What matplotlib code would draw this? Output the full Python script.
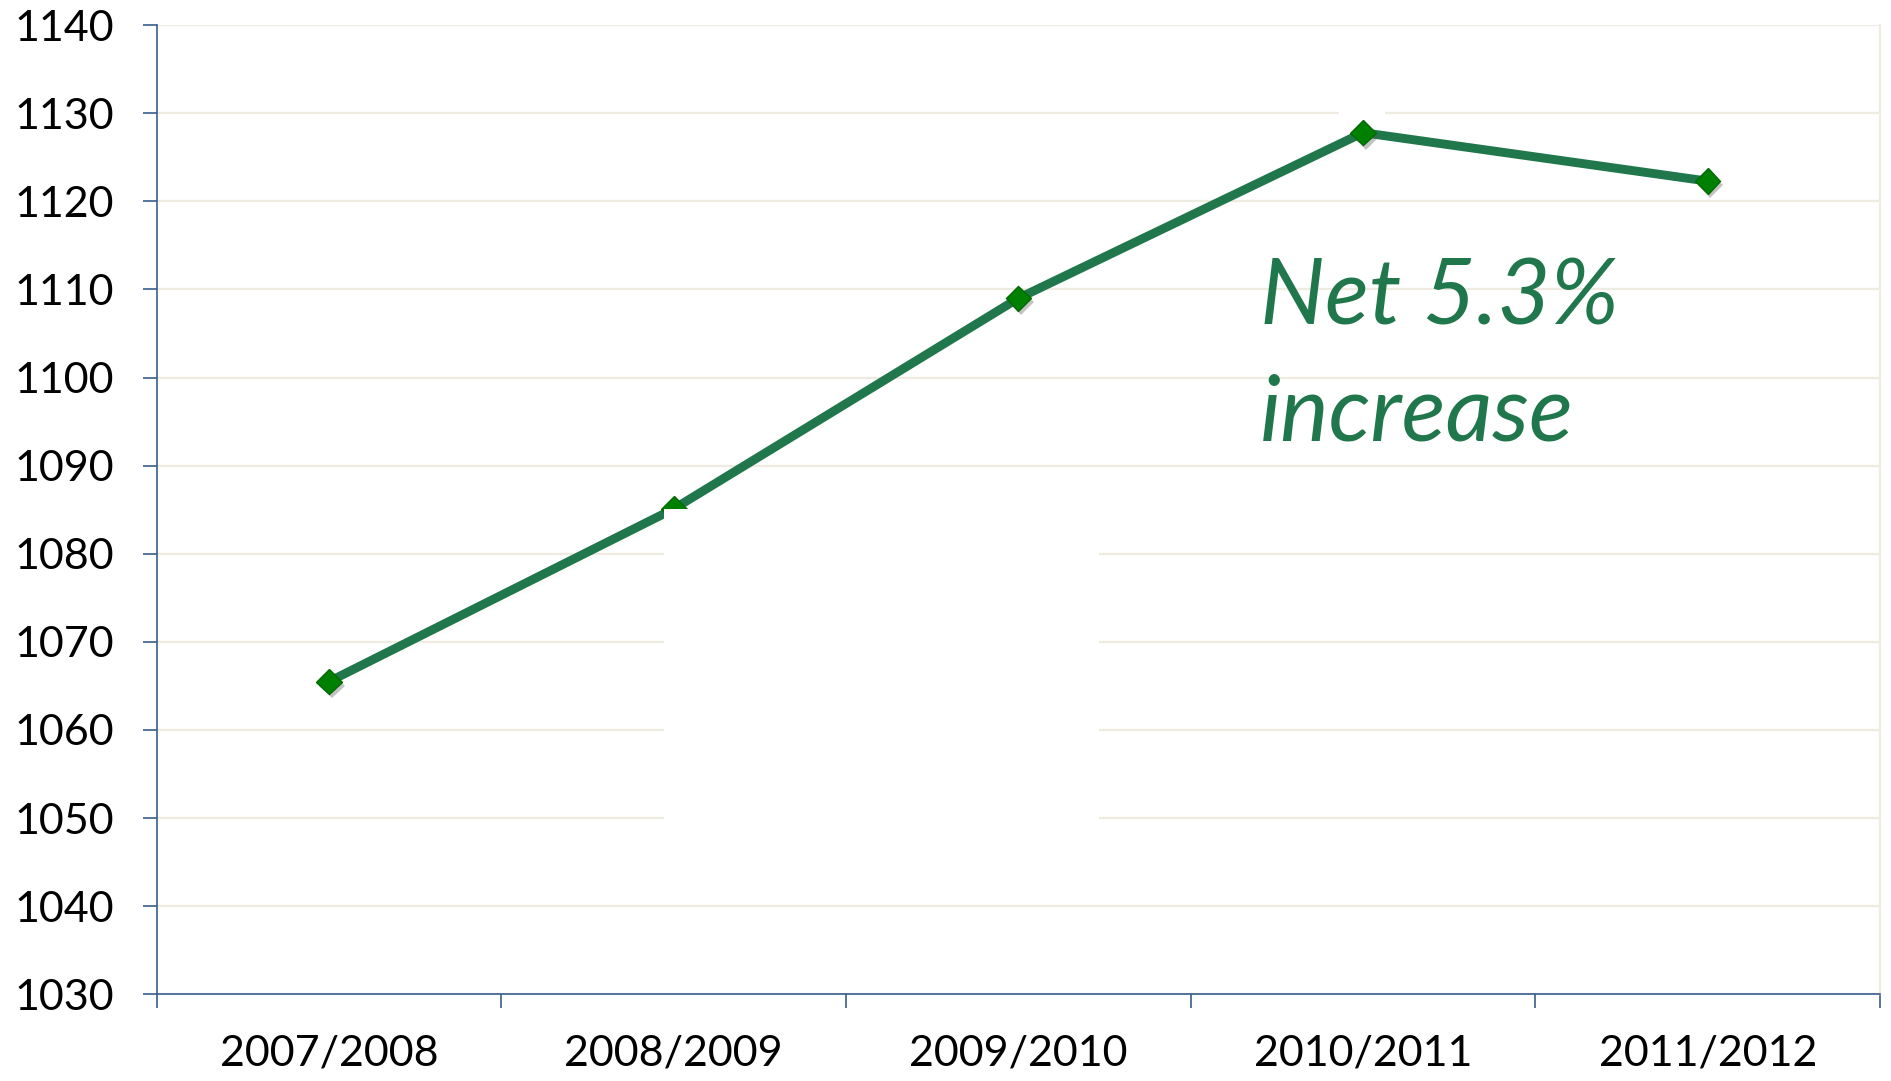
import matplotlib
matplotlib.use('Agg')
import matplotlib.pyplot as plt
import matplotlib.patheffects as pe
from matplotlib.patches import Rectangle

# school years and the values
years = ['2007/2008', '2008/2009', '2009/2010', '2010/2011', '2011/2012']
values = [1065.5, 1085.1, 1109.0, 1127.8, 1122.3]
y_ticks = list(range(1030, 1141, 10))
note_lines = ['Net 5.3%', 'increase']

line_color = '#21774C'
marker_color = '#008000'
grid_color = '#EEECE1'
axis_color = '#385D8A'

plt.rcParams['font.family'] = ['Lato', 'DejaVu Sans']

fig = plt.figure(figsize=(18.91, 10.81), dpi=100)
ax = fig.add_axes([0.0829, 0.0802, 0.9113, 0.8965])

x = list(range(len(years)))
ax.plot(x, values, color=line_color, lw=6.4, zorder=3)
ax.plot(x, values, ls='none', marker='D', ms=13, mfc=marker_color,
        mec='#006B00', mew=1, zorder=4,
        path_effects=[pe.SimplePatchShadow(offset=(2, -3), alpha=0.35,
                                           shadow_rgbFace='#555555'),
                      pe.Normal()])

# white boxes that sit over part of the plot in the original slide
ax.add_patch(Rectangle((0.972, 1045), 2.233 - 0.972, 1085.1 - 1045,
                       facecolor='white', edgecolor='none', zorder=5))
ax.add_patch(Rectangle((2.931, 1129.5), 3.064 - 2.931, 1.0,
                       facecolor='white', edgecolor='none', zorder=2))

ax.set_xlim(-0.5, len(years) - 0.5)
ax.set_ylim(1030, 1140)
ax.set_yticks(y_ticks)
ax.set_xticks(x)
ax.set_xticklabels(years)
ax.set_xticks([i - 0.5 for i in range(len(years) + 1)], minor=True)

ax.set_axisbelow(True)
ax.yaxis.grid(True, color=grid_color, lw=1.6)

ax.tick_params(axis='y', length=10, width=1.2, color=axis_color, pad=21,
               labelsize=31)
ax.tick_params(axis='x', which='major', length=0, pad=29, labelsize=31)
ax.tick_params(axis='x', which='minor', length=10, width=1.2, color=axis_color)

ax.spines['top'].set_visible(False)
ax.spines['right'].set_color(grid_color)
ax.spines['right'].set_linewidth(1.6)
for s in ['left', 'bottom']:
    ax.spines[s].set_color(axis_color)
    ax.spines[s].set_linewidth(1.2)

ax.text(2.70, 1106.0, note_lines[0], fontsize=66, style='italic',
        color=line_color, va='baseline', ha='left')
ax.text(2.70, 1092.9, note_lines[1], fontsize=66, style='italic',
        color=line_color, va='baseline', ha='left')

fig.savefig('out.png', dpi=100)
